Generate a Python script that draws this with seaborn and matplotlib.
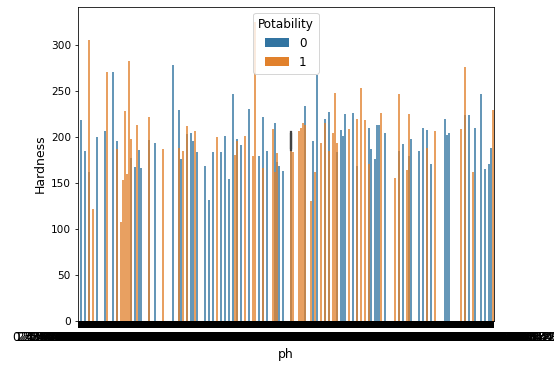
import numpy as np
import pandas as pd
import matplotlib
matplotlib.use("Agg")
import matplotlib.pyplot as plt
import seaborn as sns

_ = None

# ph categories (sorted unique ph values, one slot per category)
ph_levels = [
    "0.2274990502021987", "1.4317018845287368", "2.1286207869041463", "2.5389826371549043", "2.8769837469728174",
    "3.1026843592814326", "3.3107495381626482", "3.4451904823367215", "3.6029437819520834", "3.7160800753425362",
    "3.8361047216395871", "3.9454219017435765", "4.0480395827361942", "4.1391725603718465", "4.2284670538391275",
    "4.3016524781047326", "4.3764013652870931", "4.4457182635091743", "4.5120736381092546", "4.5723408713659012",
    "4.6390657452983015", "4.6927153308524116", "4.7521498267631094", "4.8022931576318447", "4.8571060953148762",
    "4.9041237658203917", "4.9528834916637205", "5.0019276185403361", "5.0450337214689821", "5.0899617355264108",
    "5.1322540890517364", "5.1741068823045197", "5.2157103468917234", "5.2543892570164835", "5.2937610428159367",
    "5.3312708451632298", "5.3685392047186115", "5.4036718934610257", "5.4400213857062418", "5.4748096533301742",
    "5.5083714265930189", "5.5429870136458921", "5.5762301894535128", "5.6086127391046472", "5.6403718207156382",
    "5.6728491056293741", "5.7036258701946311", "5.7351982047813659", "5.7651062893415507", "5.7954719130286418",
    "5.8246180471925635", "5.8540392761835012", "5.8824017302619484", "5.9113580427961573", "5.9393041582760716",
    "5.9673609124578362", "5.9945617042813968", "6.0219341786052273", "6.0487109352846031", "6.0754023691502418",
    "6.1018426079143856", "6.1278602417395823", "6.1539715806281942", "6.1795236018473915", "6.2049178365024713",
    "6.2301457092381649", "6.2548692013475082", "6.2796312847150964", "6.3041895620741307", "6.3283107594825146",
    "6.3524620183964758", "6.3762048592173641", "6.3999168204735928", "6.4234017592861305", "6.4466839025173846",
    "6.4698273041659182", "6.4928106348217593", "6.5156620931847025", "6.5384017629351784", "6.5609471268305932",
    "6.5834520917836471", "6.6057182039465218", "6.6280375916824053", "6.6501239054718362", "6.6721604893125587",
    "6.6940862751394018", "6.7159083624170935", "6.7376490218653271", "6.7593051836247109", "6.7809264071835296",
    "6.8024179350621847", "6.8238926503187421", "6.8452813069274153", "6.8666012538410729", "6.8878920163547285",
    "6.9091257309814661", "6.9303028416592735", "6.9514372860139528", "6.9725108347256193", "6.9935641029873816",
    "7.0146173082529437", "7.0356309218645082", "7.0566492701318465", "7.0710235716839163", "7.0776540290714381",
    "7.0790132865104782", "7.080794504276835", "7.0829165081273946", "7.0986527318405624", "7.1197640125938412",
    "7.1408231579461203", "7.1618759201348655", "7.1829650317498216", "7.2040523970816348", "7.2251936208471053",
    "7.2463109547281964", "7.2674837102396158", "7.2886245130978643", "7.3098106483521797", "7.3310294751836208",
    "7.3523081694270531", "7.3736028417359164", "7.3949431208617352", "7.4163210957428613", "7.4377518263094826",
    "7.4592107531846293", "7.4807346219058731", "7.5023170842536914", "7.5239526108374159", "7.5456382951027643",
    "7.5674213068591427", "7.5892546312780954", "7.6111827495306218", "7.6331920857143662", "7.6552816324091275",
    "7.6774613085291437", "7.6997342150863029", "7.7221070358162845", "7.7445693172408571", "7.7671480539126603",
    "7.7898251367094182", "7.8126209843517306", "7.8355182037619524", "7.8585310926437081", "7.8816604832915737",
    "7.9049151286037426", "7.9282843605127194", "7.9517960321846582", "7.9754318047621935", "7.9992103865207413",
    "8.0231465209384171", "8.0472208135946827", "8.0714567392018546", "8.0958539120673428", "8.1204093658127304",
    "8.1451628730952186", "8.1700953164208273", "8.1952307941580638", "8.2205748316924073", "8.2461209853106742",
    "8.2719084135726891", "8.2979061527340185", "8.3167658842146794", "8.3505927418360524", "8.3773105692148307",
    "8.4043842107956318", "8.4318092635481627", "8.4595603178264091", "8.4876910483625173", "8.5162057913482604",
    "8.5451092376108425", "8.5744608215973062", "8.6042751038962845", "8.6345823916507281", "8.6653962081735491",
    "8.6967531028461937", "8.7287306193528405", "8.7613482970261854", "8.7946190835142273", "8.8286075321908462",
    "8.8633862095714318", "8.8990318457206193", "8.9356021836941527", "8.9731684209573316", "9.0118370925846152",
    "9.0516842371095368", "9.0928463105729184", "9.1354618927403516", "9.1796527308164239", "9.2256081473920512",
    "9.2735106298417365", "9.3236518042967183", "9.3762014851307456", "9.4315620783924107", "9.4902136708519234",
    "9.5527240631852947", "9.6197361482075316", "9.6922408317560942", "9.7715207186430251", "9.8594028315672034",
    "9.9586217094328517", "10.073528164902813", "10.210398157264307", "10.382450927160358", "10.614273580629134",
    "10.962578430193642", "11.568203947601328", "13.541237205468120",
]

# Hardness per ph category, Potability = 0 (None = no sample)
hardness_potability_0 = [
    _, 218, _, 185, _, 162, _, _, _, 200,
    _, _, _, 206, _, _, _, 270, _, 195,
    _, _, _, _, _, _, 177, _, 167, _,
    186, 166, _, _, _, 197, _, _, 193, _,
    _, _, _, _, _, _, _, 278, _, _,
    229, 176, _, _, 203, _, 204, 195, _, 183,
    _, _, _, 168, _, 131, _, 184, _, _,
    _, 183, _, 201, _, 154, _, 246, _, 198,
    _, 191, _, _, _, 230, _, _, _, _,
    179, _, 221, _, 185, _, _, _, 215, 173,
    168, _, 163, _, _, _, _, _, _, _,
    _, _, _, 234, _, _, _, 195, _, 267,
    _, _, _, 219, _, 227, _, _, _, 184,
    _, 207, 201, 225, _, _, _, 226, _, 168,
    _, _, _, _, _, 210, 187, _, 176, 213,
    213, _, _, 204, _, _, _, _, _, _,
    185, _, 192, _, _, 179, 198, _, _, _,
    185, _, 210, _, 207, _, 170, _, _, _,
    _, _, _, 219, 202, 204, _, _, _, _,
    _, _, _, 224, _, 224, _, _, 210, _,
    _, 246, _, 165, _, 170, 188, _,
]

# Hardness per ph category, Potability = 1
hardness_potability_1 = [
    _, _, _, _, _, 305, _, 122, _, _,
    _, _, _, _, 270, _, _, _, _, 187,
    _, 108, 153, 228, 160, 282, 198, _, _, 213,
    _, _, _, _, _, 222, _, _, _, _,
    _, _, 187, _, _, _, _, _, _, _,
    188, _, 185, _, 212, _, _, _, 206, _,
    _, _, _, _, _, _, _, _, _, 200,
    _, _, _, _, _, _, _, _, 180, 195,
    _, _, _, 201, _, _, _, 179, 325, _,
    _, _, 166, _, _, _, _, 208, 162, 182,
    _, _, _, _, _, _, _, 184, _, _,
    206, 210, 215, 213, _, _, 130, _, 162, _,
    _, 193, _, 215, _, 185, _, 204, 248, 193,
    _, _, _, _, _, 208, _, _, _, 219,
    _, 253, _, 218, _, 171, _, _, _, _,
    _, 226, _, _, _, _, _, _, 155, _,
    246, _, _, _, 164, 225, _, _, _, _,
    _, _, _, _, 188, _, _, _, 206, _,
    _, _, _, _, _, _, _, _, _, _,
    _, 208, _, 276, _, _, _, 162, _, _,
    _, _, _, _, _, _, _, 229,
]

# many samples share the (mean-imputed) ph value -> error bars
imputed_ph = "7.080794504276835"
imputed_hardness_0 = [186, 207, 197, 190, 204]
imputed_hardness_1 = [185, 205, 193, 188, 201]

potability_levels = ["0", "1"]

rows = []
for ph, h0, h1 in zip(ph_levels, hardness_potability_0, hardness_potability_1):
    if h0 is not None:
        rows.append((ph, h0, "0"))
    if h1 is not None:
        rows.append((ph, h1, "1"))
for h in imputed_hardness_0:
    rows.append((imputed_ph, h, "0"))
for h in imputed_hardness_1:
    rows.append((imputed_ph, h, "1"))
df = pd.DataFrame(rows, columns=["ph", "Hardness", "Potability"])

DPI = 72
fig = plt.figure(figsize=(554 / DPI, 369 / DPI), dpi=DPI)
ax = fig.add_axes([78 / 554, 48 / 369, 416 / 554, 314 / 369])

sns.barplot(data=df, x="ph", y="Hardness", hue="Potability",
            order=ph_levels, hue_order=potability_levels,
            dodge=False, width=0.6, errorbar="sd",
            linewidth=0, edgecolor="none", alpha=0.75, ax=ax)

ax.set_ylim(0, 341)
ax.set_yticks([0, 50, 100, 150, 200, 250, 300])
ax.tick_params(axis="x", length=7, width=2, labelsize=12, pad=3)
ax.tick_params(axis="y", labelsize=10.5)
ax.set_xlabel("ph", fontsize=12.5)
ax.set_ylabel("Hardness", fontsize=12.5)
sns.move_legend(ax, "upper center", title="Potability", fontsize=12, title_fontsize=12)
for handle in ax.get_legend().legend_handles:
    handle.set_alpha(1)

fig.savefig("out.png", dpi=DPI)
